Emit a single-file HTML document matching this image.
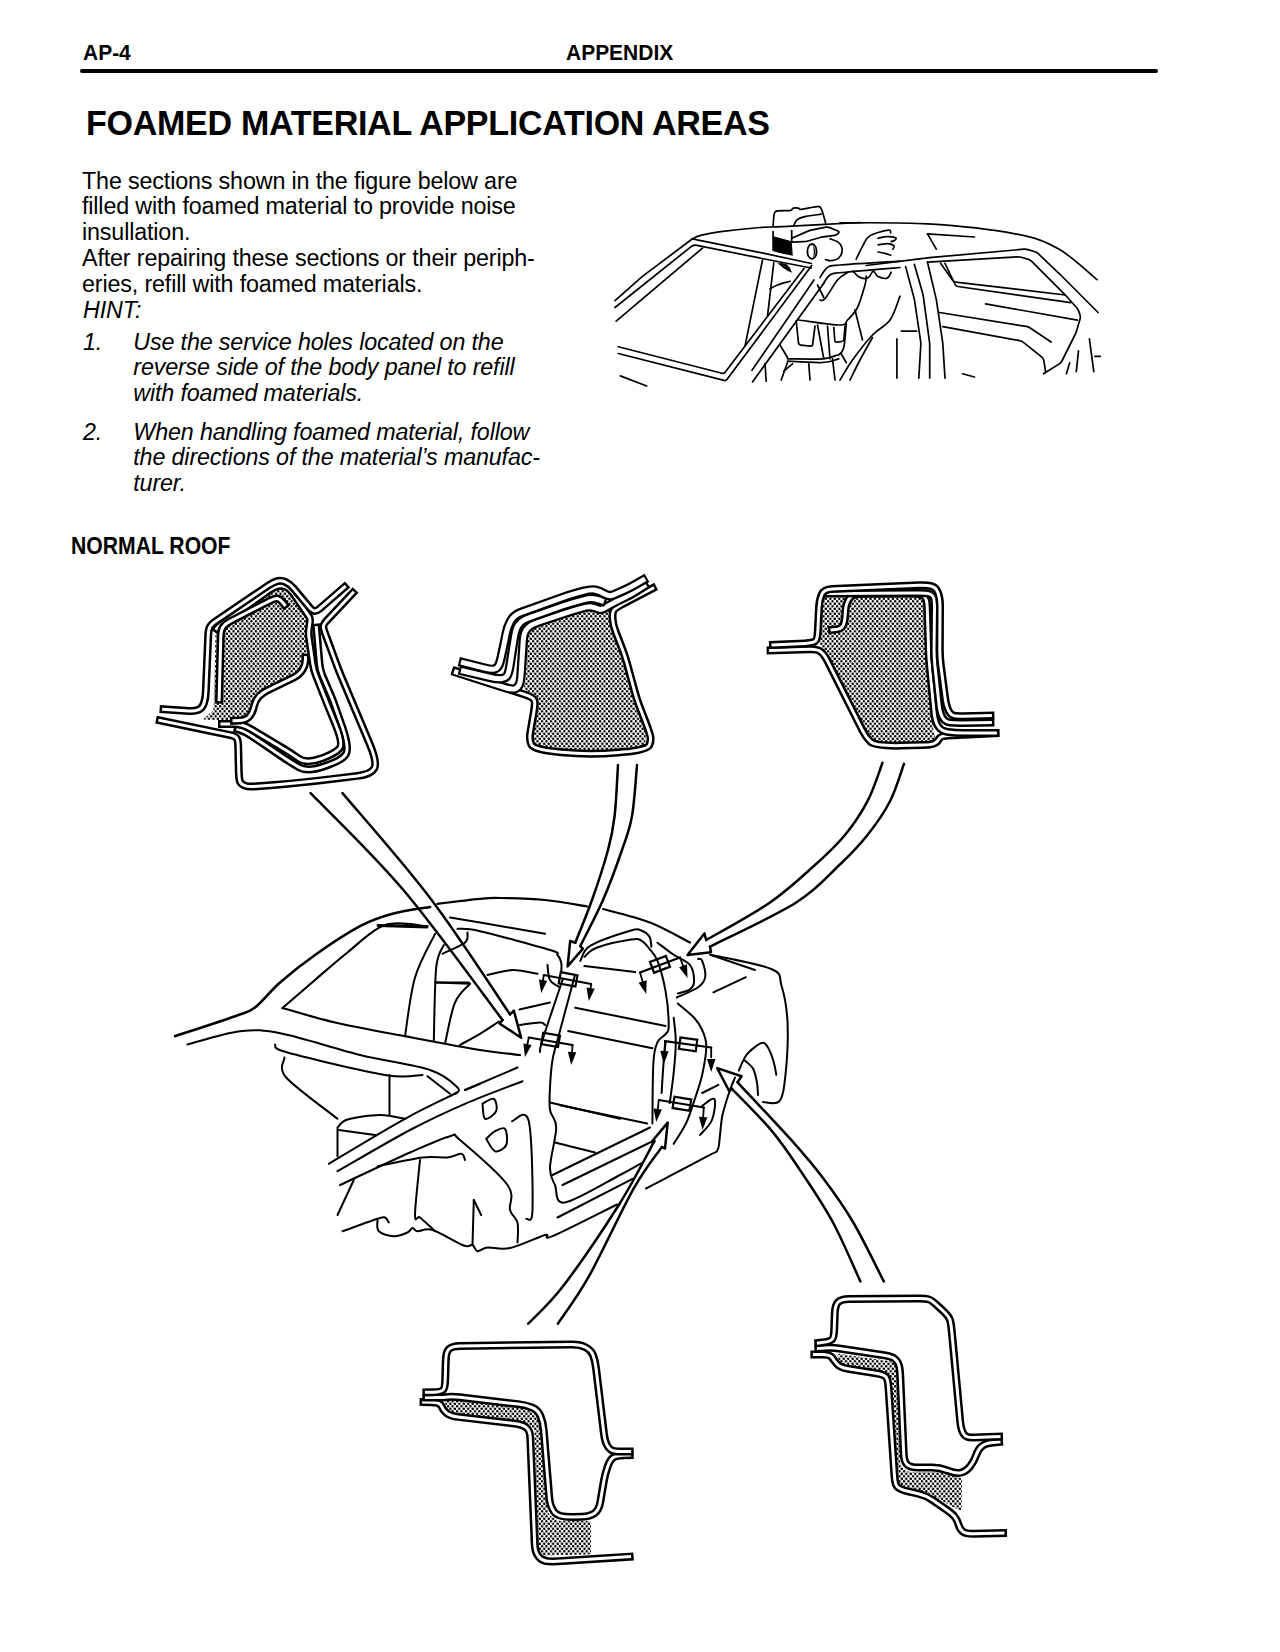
<!DOCTYPE html>
<html><head><meta charset="utf-8"><title>AP-4 Appendix</title>
<style>
html,body{margin:0;padding:0;background:#fff;}
body{width:1280px;height:1652px;position:relative;overflow:hidden;font-family:"Liberation Sans",sans-serif;color:#000;}
.l{position:absolute;white-space:nowrap;line-height:1;}
.b{font-weight:bold;}
.i{font-style:italic;}
.rule{position:absolute;left:80px;top:69px;width:1078px;height:4px;background:#000;border-radius:2px;}
svg.d{position:absolute;left:0;top:0;}
</style></head><body>
<div class="rule"></div>
<div class="l b" style="left:83px;top:41.00px;font-size:22.8px;letter-spacing:0.0px;transform:scaleX(0.92);transform-origin:0 0">AP-4</div>
<div class="l b" style="left:565.5px;top:41.00px;font-size:22.8px;letter-spacing:0.0px;transform:scaleX(0.92);transform-origin:0 0">APPENDIX</div>
<div class="l b" style="left:86.4px;top:105.17px;font-size:35px;letter-spacing:-0.3px;transform:scaleX(0.9725);transform-origin:0 0">FOAMED MATERIAL APPLICATION AREAS</div>
<div class="l " style="left:82.0px;top:169.98px;font-size:23.3px;letter-spacing:-0.15px">The sections shown in the figure below are</div>
<div class="l " style="left:82.0px;top:195.18px;font-size:23.3px;letter-spacing:-0.15px">filled with foamed material to provide noise</div>
<div class="l " style="left:82.0px;top:220.58px;font-size:23.3px;letter-spacing:-0.15px">insullation.</div>
<div class="l " style="left:82.0px;top:247.38px;font-size:23.3px;letter-spacing:-0.15px">After repairing these sections or their periph-</div>
<div class="l " style="left:82.0px;top:272.78px;font-size:23.3px;letter-spacing:-0.15px">eries, refill with foamed materials.</div>
<div class="l i" style="left:83px;top:299.18px;font-size:23.3px;letter-spacing:-0.15px">HINT:</div>
<div class="l i" style="left:83px;top:330.68px;font-size:23.3px;letter-spacing:-0.15px">1.</div>
<div class="l i" style="left:133.3px;top:330.68px;font-size:23.3px;letter-spacing:-0.15px">Use the service holes located on the</div>
<div class="l i" style="left:133.3px;top:356.28px;font-size:23.3px;letter-spacing:-0.15px">reverse side of the body panel to refill</div>
<div class="l i" style="left:133.3px;top:381.78px;font-size:23.3px;letter-spacing:-0.15px">with foamed materials.</div>
<div class="l i" style="left:83px;top:421.08px;font-size:23.3px;letter-spacing:-0.15px">2.</div>
<div class="l i" style="left:133.3px;top:421.08px;font-size:23.3px;letter-spacing:-0.15px">When handling foamed material, follow</div>
<div class="l i" style="left:133.3px;top:446.48px;font-size:23.3px;letter-spacing:-0.15px">the directions of the material&#8217;s manufac-</div>
<div class="l i" style="left:133.3px;top:472.08px;font-size:23.3px;letter-spacing:-0.15px">turer.</div>
<div class="l b" style="left:71px;top:534.53px;font-size:23px;letter-spacing:0.0px;transform:scaleX(0.92);transform-origin:0 0">NORMAL ROOF</div>
<svg class="d" width="1280" height="1652" viewBox="0 0 1280 1652"><defs><pattern id="dots" width="4.47" height="5" patternUnits="userSpaceOnUse"><rect width="4.47" height="5" fill="#fff"/><circle cx="1.1" cy="1.25" r="1.25" fill="#000"/><circle cx="3.335" cy="3.75" r="1.25" fill="#000"/></pattern></defs><path d="M204.7 717.7L211.3 712.3Q213.6 710.4 213.7 707.4L215.5 633Q215.6 630 217.8 628L217.8 628Q220 626 222.5 624.3L275.5 589.3Q278 587.6 280.9 588.3L287.1 589.7Q290 590.4 291.6 592.9L306.4 615.5Q308 618 308.1 621L308.3 625Q308.4 628 308.2 631L306.6 649Q306.4 652 306.1 655L305.5 663Q305.2 666 303.5 668.5L300.7 672.5Q299 675 296.3 676.3L264.7 691.7Q262 693 260 695.2L257.6 697.8Q255.6 700 254.9 702.9L252.7 711.1Q252 714 249.8 716L248.2 717.6Q246 719.6 243 719.7L233 720.3Q230 720.4 227 720.3L205.4 719.7Q202.4 719.6 204.7 717.7Z" fill="url(#dots)" stroke="none"/>
<path d="M355.6 590L327.1 620.2Q323 624.6 323.3 627L323.3 627Q323.6 629.4 325.7 635L336.9 665.4Q339 671 341.3 676.5L369.7 744Q377.4 762.4 374.3 768.3L374.3 768.3Q371.2 774.2 357.3 775.9L335.6 778.6Q300 783 274 785L254 786.5Q248 787 244.2 785.3L244.2 785.3Q240.4 783.6 239.7 780.8L239.7 780.8Q239 778 238.8 772L238.2 746Q238 740 236.5 738L236.5 738Q235 736 229.1 734.8L156 719.6" stroke="#000" stroke-width="8" fill="none" stroke-linejoin="round"/><path d="M353.9 591.8L327.1 620.2Q323 624.6 323.3 627L323.3 627Q323.6 629.4 325.7 635L336.9 665.4Q339 671 341.3 676.5L369.7 744Q377.4 762.4 374.3 768.3L374.3 768.3Q371.2 774.2 357.3 775.9L335.6 778.6Q300 783 274 785L254 786.5Q248 787 244.2 785.3L244.2 785.3Q240.4 783.6 239.7 780.8L239.7 780.8Q239 778 238.8 772L238.2 746Q238 740 236.5 738L236.5 738Q235 736 229.1 734.8L158.4 720.1" stroke="#fff" stroke-width="3" fill="none" stroke-linejoin="round"/>
<path d="M316 623.6L319.5 664Q320 670 322.3 675.5L331.3 696.5Q333.6 702 335.5 707.7L342.5 727.8Q349.6 748.6 345.8 754.3L345.8 754.3Q342 760 328.8 764.7L324.7 766.1Q307.4 772.2 298.7 767.1L295.2 765Q290 762 285 758.6L251 735.4Q246 732 240.3 730.1L234 728" stroke="#000" stroke-width="8" fill="none" stroke-linejoin="round"/><path d="M316.2 626.1L319.5 664Q320 670 322.3 675.5L331.3 696.5Q333.6 702 335.5 707.7L342.5 727.8Q349.6 748.6 345.8 754.3L345.8 754.3Q342 760 328.8 764.7L324.7 766.1Q307.4 772.2 298.7 767.1L295.2 765Q290 762 285 758.6L251 735.4Q246 732 241.2 730.4L236.4 728.8" stroke="#fff" stroke-width="3" fill="none" stroke-linejoin="round"/>
<path d="M214.4 632L216.2 629.4Q218 626.8 222.9 623.3L269.1 590.3Q274 586.8 278 586L278 586Q282 585.2 286 586.8L286 586.8Q290 588.4 293.3 593.4L304.7 610.2Q308 615.2 309.3 617.1L309.3 617.1Q310.6 619 309.5 624.9L309.3 626.5Q308.2 632.4 309.1 638.3L312.9 664.1Q313.8 670 316 675.6L324.2 696.4Q326.4 702 328.7 707.6L335 723Q343.4 743.4 339.7 748.2L339.7 748.2Q336 753 322.9 757.9L321.2 758.5Q306.4 764 298.2 758.3L294.9 756Q290 752.6 284.9 749.5L251.5 729.5Q246.4 726.4 242.2 725.2L242.2 725.2Q238 724 232 724L218 724" stroke="#000" stroke-width="8" fill="none" stroke-linejoin="round"/><path d="M215.8 629.9L216.9 628.4Q218 626.8 222.9 623.3L269.1 590.3Q274 586.8 278 586L278 586Q282 585.2 286 586.8L286 586.8Q290 588.4 293.3 593.4L304.7 610.2Q308 615.2 309.3 617.1L309.3 617.1Q310.6 619 309.5 624.9L309.3 626.5Q308.2 632.4 309.1 638.3L312.9 664.1Q313.8 670 316 675.6L324.2 696.4Q326.4 702 328.7 707.6L335 723Q343.4 743.4 339.7 748.2L339.7 748.2Q336 753 322.9 757.9L321.2 758.5Q306.4 764 298.2 758.3L294.9 756Q290 752.6 284.9 749.5L251.5 729.5Q246.4 726.4 242.2 725.2L242.2 725.2Q238 724 232 724L220.5 724" stroke="#fff" stroke-width="3" fill="none" stroke-linejoin="round"/>
<path d="M159.6 709L189 711Q195 711.4 198.7 709.7L198.7 709.7Q202.4 708 204 703L204 703Q205.6 698 205.8 692L208.2 636Q208.4 630 209.7 627.2L209.7 627.2Q211 624.4 216 621L268 585.8Q273 582.4 277 581.2L277 581.2Q281 580 285.5 582L285.5 582Q290 584 293.8 588.6L308.6 606.4Q312.4 611 314.7 611L314.7 611Q317 611 319.3 609L347.6 584.4" stroke="#000" stroke-width="8" fill="none" stroke-linejoin="round"/><path d="M162.1 709.2L189 711Q195 711.4 198.7 709.7L198.7 709.7Q202.4 708 204 703L204 703Q205.6 698 205.8 692L208.2 636Q208.4 630 209.7 627.2L209.7 627.2Q211 624.4 216 621L268 585.8Q273 582.4 277 581.2L277 581.2Q281 580 285.5 582L285.5 582Q290 584 293.8 588.6L308.6 606.4Q312.4 611 314.7 611L314.7 611Q317 611 319.3 609L345.7 586" stroke="#fff" stroke-width="3" fill="none" stroke-linejoin="round"/>
<path d="M305.6 653.6L305.4 660Q305.2 666 302.1 670.5L302.1 670.5Q299 675 293.6 677.6L267.4 690.4Q262 693 258.8 696.5L258.8 696.5Q255.6 700 254.1 705.8L253.5 708.2Q252 714 249 717L249 717Q246 720 240 720.4L230 721" stroke="#000" stroke-width="8" fill="none" stroke-linejoin="round"/><path d="M305.5 656.1L305.4 661Q305.2 666 302.1 670.5L302.1 670.5Q299 675 293.6 677.6L267.4 690.4Q262 693 258.8 696.5L258.8 696.5Q255.6 700 254.1 705.8L253.5 708.2Q252 714 249 717L249 717Q246 720 240 720.4L232.5 720.8" stroke="#fff" stroke-width="3" fill="none" stroke-linejoin="round"/>
<path d="M219 703.6L220.8 636Q221 630 223 627L223 627Q225 624 230.3 621.2L269.7 600.8Q275 598 277.5 598.5L277.5 598.5Q280 599 283.5 603.5L287 608" stroke="#000" stroke-width="8" fill="none" stroke-linejoin="round"/><path d="M219.1 701.1L220.8 636Q221 630 223 627L223 627Q225 624 230.3 621.2L269.7 600.8Q275 598 277.5 598.5L277.5 598.5Q280 599 282.7 602.5L285.5 606" stroke="#fff" stroke-width="3" fill="none" stroke-linejoin="round"/>
<path d="M524.2 685.1L525.2 681.9Q526 679 526.1 676L527.3 635.4Q527.4 632.4 529.8 630.5L530.6 629.9Q533 628 535.8 627L567.2 616Q570 615 572.9 614.2L585.9 610.4Q588.8 609.6 591.7 610.3L593.3 610.7Q596.2 611.4 598.6 612.5L598.6 612.5Q601 613.6 603.7 612.3L603.9 612.3Q606.6 611 609.3 609.8L609.3 609.8Q612 608.6 612.3 611.6L612.7 615Q613 618 613.9 620.9L624.1 655.1Q625 658 625.8 660.9L636.2 699.1Q637 702 637.9 704.9L645.7 729.1Q646.6 732 646.2 735L645 744Q644.6 747 641.6 747.3L592 752.1Q589 752.4 586 752.1L538.4 747.3Q535.4 747 534.2 744.3L533.4 742.7Q532.2 740 532.6 737L536.6 707Q537 704 535.8 701.3L534.2 697.9Q533 695.2 530.6 693.4L525.8 689.8Q523.4 688 524.2 685.1Z" fill="url(#dots)" stroke="none"/>
<path d="M452 670.6L525.4 694.7Q533 697.2 534.2 700.1L534.2 700.1Q535.4 703 534 710.9L530.4 732.1Q529 740 531.5 744.8L531.5 744.8Q534 749.6 558.9 752L561.5 752.3Q589 755 618.2 752.5L622.5 752.1Q647.4 750 649.4 745L649.4 745Q651.4 740 650 735L650 735Q648.6 730 645.7 722.5L639.9 707.5Q637 700 634.9 692.3L627.1 663.7Q625 656 622.1 648.5L615.9 632.5Q613 625 612.6 618.9L612.6 618.9Q612.2 612.8 613.6 610.4L613.6 610.4Q615 608 622.1 604.3L622.9 603.9Q630 600.2 637.1 596.5L656.2 586.4" stroke="#000" stroke-width="8" fill="none" stroke-linejoin="round"/><path d="M454.4 671.4L525.4 694.7Q533 697.2 534.2 700.1L534.2 700.1Q535.4 703 534 710.9L530.4 732.1Q529 740 531.5 744.8L531.5 744.8Q534 749.6 558.9 752L561.5 752.3Q589 755 618.2 752.5L622.5 752.1Q647.4 750 649.4 745L649.4 745Q651.4 740 650 735L650 735Q648.6 730 645.7 722.5L639.9 707.5Q637 700 634.9 692.3L627.1 663.7Q625 656 622.1 648.5L615.9 632.5Q613 625 612.6 618.9L612.6 618.9Q612.2 612.8 613.6 610.4L613.6 610.4Q615 608 622.1 604.3L622.9 603.9Q630 600.2 637.1 596.5L654 587.6" stroke="#fff" stroke-width="3" fill="none" stroke-linejoin="round"/>
<path d="M452 670.6L503.4 687.1Q511 689.6 514.2 689L514.2 689Q517.4 688.4 519 685.2L519 685.2Q520.6 682 521.1 674L523.3 640Q523.8 632 527.6 628.2L527.6 628.2Q531.4 624.4 539 621.9L562.4 614.1Q570 611.6 577.7 609.4L581.1 608.4Q588.8 606.2 592.5 607.1L592.5 607.1Q596.2 608 598.6 609L598.6 609Q601 610 603.5 608.6L603.5 608.6Q606 607.2 611.5 604.1L611.5 604.1Q617 601 623.5 598L623.5 598Q630 595 636.7 590.7L648 583.4" stroke="#000" stroke-width="9.5" fill="none" stroke-linejoin="round"/><path d="M454.1 671.3L503.4 687.1Q511 689.6 514.2 689L514.2 689Q517.4 688.4 519 685.2L519 685.2Q520.6 682 521.1 674L523.3 640Q523.8 632 527.6 628.2L527.6 628.2Q531.4 624.4 539 621.9L562.4 614.1Q570 611.6 577.7 609.4L581.1 608.4Q588.8 606.2 592.5 607.1L592.5 607.1Q596.2 608 598.6 609L598.6 609Q601 610 603.5 608.6L603.5 608.6Q606 607.2 611.5 604.1L611.5 604.1Q617 601 623.5 598L623.5 598Q630 595 636.7 590.7L646.1 584.6" stroke="#fff" stroke-width="5" fill="none" stroke-linejoin="round"/>
<path d="M458.8 670L489.6 677.3Q497.4 679.2 501.2 678.8L501.2 678.8Q505 678.4 506.8 676.2L506.8 676.2Q508.6 674 509.9 666.1L512.7 647.9Q514 640 515 633.8L515 633.8Q516 627.6 519.3 623.8L519.3 623.8Q522.6 620 530.2 617.4L562.4 606Q570 603.4 577.7 601.3L583.3 599.9Q591 597.8 595.5 599L595.5 599Q600 600.2 603 601.3L606 602.4" stroke="#000" stroke-width="9.5" fill="none" stroke-linejoin="round"/><path d="M461 670.5L489.6 677.3Q497.4 679.2 501.2 678.8L501.2 678.8Q505 678.4 506.8 676.2L506.8 676.2Q508.6 674 509.9 666.1L512.7 647.9Q514 640 515 633.8L515 633.8Q516 627.6 519.3 623.8L519.3 623.8Q522.6 620 530.2 617.4L562.4 606Q570 603.4 577.7 601.3L583.3 599.9Q591 597.8 595.5 599L595.5 599Q600 600.2 601.9 600.9L603.9 601.6" stroke="#fff" stroke-width="5" fill="none" stroke-linejoin="round"/>
<path d="M458.8 661.6L484.4 668Q492.2 670 494.8 669L494.8 669Q497.4 668 498.7 665.5L498.7 665.5Q500 663 501.7 655.2L503.3 647.8Q505 640 506.2 633.5L506.2 633.5Q507.4 627 510.7 621L510.7 621Q514 615 521.5 612.3L562.5 597.7Q570 595 577.7 592.9L583.3 591.3Q591 589.2 595.5 590.2L595.5 590.2Q600 591.2 604.4 593.9L604.4 593.9Q608.8 596.6 612.9 595.1L612.9 595.1Q617 593.6 623.5 590.6L623.5 590.6Q630 587.6 636.9 583.6L647 577.8" stroke="#000" stroke-width="9.5" fill="none" stroke-linejoin="round"/><path d="M461 662.1L484.4 668Q492.2 670 494.8 669L494.8 669Q497.4 668 498.7 665.5L498.7 665.5Q500 663 501.7 655.2L503.3 647.8Q505 640 506.2 633.5L506.2 633.5Q507.4 627 510.7 621L510.7 621Q514 615 521.5 612.3L562.5 597.7Q570 595 577.7 592.9L583.3 591.3Q591 589.2 595.5 590.2L595.5 590.2Q600 591.2 604.4 593.9L604.4 593.9Q608.8 596.6 612.9 595.1L612.9 595.1Q617 593.6 623.5 590.6L623.5 590.6Q630 587.6 636.9 583.6L645.1 578.9" stroke="#fff" stroke-width="5" fill="none" stroke-linejoin="round"/>
<path d="M823 595L823 595Q825 593 829 593L923 592.6Q927 592.6 928.2 596.4L929.8 601.2Q931 605 931.1 609L932.9 725Q933 729 934 732.9L935 737.1Q936 741 932 741.2L879 743.2Q875 743.4 871.9 740.9L870.1 739.5Q867 737 865.2 733.4L825.8 653.6Q824 650 821.7 647.5L821.7 647.5Q819.4 645 819.5 641L820.9 601Q821 597 823 595Z" fill="url(#dots)" stroke="none"/>
<path d="M766.6 650.6L809 649.3Q817 649 820.5 651.5L820.5 651.5Q824 654 827.6 661.1L862.4 730.3Q866 737.4 870.5 741.7L870.5 741.7Q875 746 900 745.6L923 745.1Q931 745 934.2 743.5L934.2 743.5Q937.4 742 939 739L939 739Q940.6 736 948.6 735.6L999.4 733" stroke="#000" stroke-width="8" fill="none" stroke-linejoin="round"/><path d="M769.1 650.5L809 649.3Q817 649 820.5 651.5L820.5 651.5Q824 654 827.6 661.1L862.4 730.3Q866 737.4 870.5 741.7L870.5 741.7Q875 746 900 745.6L923 745.1Q931 745 934.2 743.5L934.2 743.5Q937.4 742 939 739L939 739Q940.6 736 948.6 735.6L996.9 733.1" stroke="#fff" stroke-width="3" fill="none" stroke-linejoin="round"/>
<path d="M828 630.2L834.5 629.6Q841 629 842.8 626L842.8 626Q844.6 623 845.2 615L845.4 611Q846 603 849.5 598.4L849.5 598.4Q853 593.8 861 593.8L913 593.4Q921 593.4 924 596.2L924 596.2Q927 599 927.2 607L928.6 649.4Q928.8 657.4 929.6 665.4L934.2 713Q935 721 938 726L938 726Q941 731 948 732L948 732Q955 733 963 733L999.4 733" stroke="#000" stroke-width="8" fill="none" stroke-linejoin="round"/><path d="M830.5 630L835.7 629.5Q841 629 842.8 626L842.8 626Q844.6 623 845.2 615L845.4 611Q846 603 849.5 598.4L849.5 598.4Q853 593.8 861 593.8L913 593.4Q921 593.4 924 596.2L924 596.2Q927 599 927.2 607L928.6 649.4Q928.8 657.4 929.6 665.4L934.2 713Q935 721 938 726L938 726Q941 731 948 732L948 732Q955 733 963 733L996.9 733" stroke="#fff" stroke-width="3" fill="none" stroke-linejoin="round"/>
<path d="M824 593.4L919 593Q927 593 930 594.2L930 594.2Q933 595.4 933.8 598.2L933.8 598.2Q934.6 601 934.5 609L934.1 649.4Q934 657.4 934.9 665.4L939.1 705Q940 713 942.5 717.5L942.5 717.5Q945 722 950 722.5L950 722.5Q955 723 963 722.9L994.4 722.4" stroke="#000" stroke-width="8" fill="none" stroke-linejoin="round"/><path d="M826.5 593.4L919 593Q927 593 930 594.2L930 594.2Q933 595.4 933.8 598.2L933.8 598.2Q934.6 601 934.5 609L934.1 649.4Q934 657.4 934.9 665.4L939.1 705Q940 713 942.5 717.5L942.5 717.5Q945 722 950 722.5L950 722.5Q955 723 963 722.9L991.9 722.4" stroke="#fff" stroke-width="3" fill="none" stroke-linejoin="round"/>
<path d="M769 645L805 643.4Q813 643 815.2 641.2L815.2 641.2Q817.4 639.4 817.8 631.4L819 608Q819.4 600 821.7 594.7L821.7 594.7Q824 589.4 832 589.1L919 585.3Q927 585 931.5 586.2L931.5 586.2Q936 587.4 938 592.7L938 592.7Q940 598 940 606L939.8 649.4Q939.8 657.4 940.8 665.3L945 697.1Q946 705 948 709.5L948 709.5Q950 714 952.5 715.2L952.5 715.2Q955 716.4 963 716.2L994.4 715.4" stroke="#000" stroke-width="8" fill="none" stroke-linejoin="round"/><path d="M771.5 644.9L805 643.4Q813 643 815.2 641.2L815.2 641.2Q817.4 639.4 817.8 631.4L819 608Q819.4 600 821.7 594.7L821.7 594.7Q824 589.4 832 589.1L919 585.3Q927 585 931.5 586.2L931.5 586.2Q936 587.4 938 592.7L938 592.7Q940 598 940 606L939.8 649.4Q939.8 657.4 940.8 665.3L945 697.1Q946 705 948 709.5L948 709.5Q950 714 952.5 715.2L952.5 715.2Q955 716.4 963 716.2L991.9 715.5" stroke="#fff" stroke-width="3" fill="none" stroke-linejoin="round"/>
<path d="M447.5 1400.3L447.5 1400.3Q450 1399.6 453 1399.9L523 1407.7Q526 1408 528.8 1409.2L535.2 1411.8Q538 1413 539 1415.8L541.4 1423.2Q542.4 1426 542.6 1429L547.8 1511Q548 1514 550.5 1515.7L555.5 1519.3Q558 1521 561 1521L588 1521Q591 1521 591 1524L591 1551.4Q591 1554.4 588 1554.5L545 1555.5Q542 1555.6 540.3 1553.2L539.7 1552.4Q538 1550 537.9 1547L534.5 1433Q534.4 1430 532.3 1427.8L530.5 1425.8Q528.4 1423.6 525.4 1423.2L453 1414Q450 1413.6 448 1412L448 1412Q446 1410.4 445.7 1407.4L445.3 1404Q445 1401 447.5 1400.3Z" fill="url(#dots)" stroke="none"/>
<path d="M419.6 1402L432 1402.2Q440 1402.4 441.5 1406.2L441.5 1406.2Q443 1410 446.5 1413L446.5 1413Q450 1416 457.9 1416.9L514.1 1423.5Q522 1424.4 526 1427.2L526 1427.2Q530 1430 530.3 1438L534.7 1544Q535 1552 538.5 1556.5L538.5 1556.5Q542 1561 548 1561.3L548 1561.3Q554 1561.6 562 1561.1L633.6 1556.4" stroke="#000" stroke-width="8" fill="none" stroke-linejoin="round"/><path d="M422.1 1402L432 1402.2Q440 1402.4 441.5 1406.2L441.5 1406.2Q443 1410 446.5 1413L446.5 1413Q450 1416 457.9 1416.9L514.1 1423.5Q522 1424.4 526 1427.2L526 1427.2Q530 1430 530.3 1438L534.7 1544Q535 1552 538.5 1556.5L538.5 1556.5Q542 1561 548 1561.3L548 1561.3Q554 1561.6 562 1561.1L631.1 1556.6" stroke="#fff" stroke-width="3" fill="none" stroke-linejoin="round"/>
<path d="M422.4 1397.6L436 1397.6Q444 1397.6 448 1397L448 1397Q452 1396.4 459.9 1397.3L518.1 1404.1Q526 1405 532 1407.5L532 1407.5Q538 1410 540.5 1416L540.5 1416Q543 1422 543.7 1430L549.3 1498Q550 1506 554 1511.8L554 1511.8Q558 1517.6 574 1517L582 1516.7Q590 1516.4 594.5 1513.2L594.5 1513.2Q599 1510 600.3 1502.1L603.7 1481.9Q605 1474 607.5 1467L607.5 1467Q610 1460 613 1457.8L613 1457.8Q616 1455.6 624 1455.3L633.6 1455" stroke="#000" stroke-width="8" fill="none" stroke-linejoin="round"/><path d="M424.9 1397.6L436 1397.6Q444 1397.6 448 1397L448 1397Q452 1396.4 459.9 1397.3L518.1 1404.1Q526 1405 532 1407.5L532 1407.5Q538 1410 540.5 1416L540.5 1416Q543 1422 543.7 1430L549.3 1498Q550 1506 554 1511.8L554 1511.8Q558 1517.6 574 1517L582 1516.7Q590 1516.4 594.5 1513.2L594.5 1513.2Q599 1510 600.3 1502.1L603.7 1481.9Q605 1474 607.5 1467L607.5 1467Q610 1460 613 1457.8L613 1457.8Q616 1455.6 623.6 1455.3L631.1 1455.1" stroke="#fff" stroke-width="3" fill="none" stroke-linejoin="round"/>
<path d="M422.4 1392.4L433 1392.2Q441 1392 443 1390L443 1390Q445 1388 445.2 1380L445.8 1360Q446 1352 449 1349L449 1349Q452 1346 460 1345.9L572 1344.5Q580 1344.4 585.5 1347.2L585.5 1347.2Q591 1350 593 1355L593 1355Q595 1360 596 1367.9L604 1434.1Q605 1442 607.5 1446L607.5 1446Q610 1450 613 1450.8L613 1450.8Q616 1451.6 624 1451.6L633.6 1451.6" stroke="#000" stroke-width="8" fill="none" stroke-linejoin="round"/><path d="M424.9 1392.3L433 1392.2Q441 1392 443 1390L443 1390Q445 1388 445.2 1380L445.8 1360Q446 1352 449 1349L449 1349Q452 1346 460 1345.9L572 1344.5Q580 1344.4 585.5 1347.2L585.5 1347.2Q591 1350 593 1355L593 1355Q595 1360 596 1367.9L604 1434.1Q605 1442 607.5 1446L607.5 1446Q610 1450 613 1450.8L613 1450.8Q616 1451.6 623.5 1451.6L631.1 1451.6" stroke="#fff" stroke-width="3" fill="none" stroke-linejoin="round"/>
<path d="M840 1353.9L889 1361.1Q892 1361.5 894.1 1363.6L894.3 1363.8Q896.4 1365.9 896.8 1368.9L898 1378.5Q898.4 1381.5 898.5 1384.5L900.3 1462.5Q900.4 1465.5 902.7 1467.4L905.7 1470Q908 1471.9 911 1471.9L937 1471.9Q940 1471.9 942.9 1472.8L959.1 1477.6Q962 1478.5 962 1481.5L961.6 1508.5Q961.6 1511.5 958.9 1510.1L956.7 1508.9Q954 1507.5 951.4 1506L928.6 1493.4Q926 1491.9 923 1491.4L903 1488.4Q900 1487.9 898.4 1485.4L897.6 1484Q896 1481.5 895.9 1478.5L892.1 1384.5Q892 1381.5 890.2 1379.1L888.2 1376.3Q886.4 1373.9 883.4 1373.4L843.4 1366.4Q840.4 1365.9 839.6 1363L837.8 1356.4Q837 1353.5 840 1353.9Z" fill="url(#dots)" stroke="none"/>
<path d="M810.4 1354.5L822 1354.5Q830 1354.5 832 1357.5L832 1357.5Q834 1360.5 837 1364L837 1364Q840 1367.5 847.9 1368.8L876.1 1373.2Q884 1374.5 886 1377L886 1377Q888 1379.5 888.5 1387.5L894.5 1476.5Q895 1484.5 897.5 1487L897.5 1487Q900 1489.5 907.8 1491.3L918.2 1493.7Q926 1495.5 932.6 1500.1L945.4 1508.9Q952 1513.5 954.5 1516.5L954.5 1516.5Q957 1519.5 958.5 1524.5L958.5 1524.5Q960 1529.5 963 1531.7L963 1531.7Q966 1533.9 974 1533.7L1007 1533.1" stroke="#000" stroke-width="8" fill="none" stroke-linejoin="round"/><path d="M812.9 1354.5L822 1354.5Q830 1354.5 832 1357.5L832 1357.5Q834 1360.5 837 1364L837 1364Q840 1367.5 847.9 1368.8L876.1 1373.2Q884 1374.5 886 1377L886 1377Q888 1379.5 888.5 1387.5L894.5 1476.5Q895 1484.5 897.5 1487L897.5 1487Q900 1489.5 907.8 1491.3L918.2 1493.7Q926 1495.5 932.6 1500.1L945.4 1508.9Q952 1513.5 954.5 1516.5L954.5 1516.5Q957 1519.5 958.5 1524.5L958.5 1524.5Q960 1529.5 963 1531.7L963 1531.7Q966 1533.9 974 1533.7L1004.5 1533.1" stroke="#fff" stroke-width="3" fill="none" stroke-linejoin="round"/>
<path d="M814.4 1348.5L825 1347.9Q833 1347.5 840.9 1348.7L884.1 1355.3Q892 1356.5 895 1359L895 1359Q898 1361.5 899 1365.5L899 1365.5Q900 1369.5 900.3 1377.5L903.7 1453.5Q904 1461.5 907 1464.5L907 1464.5Q910 1467.5 918 1467.5L932 1467.5Q940 1467.5 947.4 1470.5L948 1470.7Q956 1473.9 961 1472.7L961 1472.7Q966 1471.5 970 1466.5L970 1466.5Q974 1461.5 976 1455.5L976 1455.5Q978 1449.5 981.5 1446.5L981.5 1446.5Q985 1443.5 993 1442.6L1003 1441.5" stroke="#000" stroke-width="8" fill="none" stroke-linejoin="round"/><path d="M816.9 1348.4L825 1347.9Q833 1347.5 840.9 1348.7L884.1 1355.3Q892 1356.5 895 1359L895 1359Q898 1361.5 899 1365.5L899 1365.5Q900 1369.5 900.3 1377.5L903.7 1453.5Q904 1461.5 907 1464.5L907 1464.5Q910 1467.5 918 1467.5L932 1467.5Q940 1467.5 947.4 1470.5L948 1470.7Q956 1473.9 961 1472.7L961 1472.7Q966 1471.5 970 1466.5L970 1466.5Q974 1461.5 976 1455.5L976 1455.5Q978 1449.5 981.5 1446.5L981.5 1446.5Q985 1443.5 992.8 1442.6L1000.5 1441.8" stroke="#fff" stroke-width="3" fill="none" stroke-linejoin="round"/>
<path d="M814.4 1343.5L822.2 1342.5Q830 1341.5 832 1339.5L832 1339.5Q834 1337.5 834.2 1329.5L834.8 1313.5Q835 1305.5 838 1302.3L838 1302.3Q841 1299.1 849 1299L918 1298.6Q926 1298.5 929 1299.5L929 1299.5Q932 1300.5 937.8 1306L943.2 1311Q949 1316.5 950 1320L950 1320Q951 1323.5 951.8 1331.5L960.2 1421.5Q961 1429.5 963.5 1433.7L963.5 1433.7Q966 1437.9 974 1437.6L1003 1436.5" stroke="#000" stroke-width="8" fill="none" stroke-linejoin="round"/><path d="M816.9 1343.2L823.4 1342.3Q830 1341.5 832 1339.5L832 1339.5Q834 1337.5 834.2 1329.5L834.8 1313.5Q835 1305.5 838 1302.3L838 1302.3Q841 1299.1 849 1299L918 1298.6Q926 1298.5 929 1299.5L929 1299.5Q932 1300.5 937.8 1306L943.2 1311Q949 1316.5 950 1320L950 1320Q951 1323.5 951.8 1331.5L960.2 1421.5Q961 1429.5 963.5 1433.7L963.5 1433.7Q966 1437.9 974 1437.6L1000.5 1436.6" stroke="#fff" stroke-width="3" fill="none" stroke-linejoin="round"/>
<path d="M175 1036.2C185 1032.9 221.7 1021 235 1016.2C248.3 1011.5 247.5 1013.1 255 1007.5C262.5 1001.9 270 991.2 280 982.5C290 973.8 301.7 964.4 315 955C328.3 945.6 347.1 933.1 360 926.2C372.9 919.4 380.8 917 392.5 913.8C404.2 910.5 423.8 908.1 430 907" stroke="#000" stroke-width="2.6" fill="none" stroke-linejoin="round" stroke-linecap="round"/>
<path d="M437.5 903.8C444.6 902.9 469.6 899.7 480 898.8C490.4 897.8 489.2 897.8 500 898C510.8 898.2 530.5 898.6 545 900C559.5 901.4 580 905.4 587 906.5" stroke="#000" stroke-width="2.2" fill="none" stroke-linejoin="round" stroke-linecap="round"/>
<path d="M603 909C610.8 911.2 635.5 916.9 650 922.5C664.5 928.1 683.3 939.2 690 942.5" stroke="#000" stroke-width="2.2" fill="none" stroke-linejoin="round" stroke-linecap="round"/>
<path d="M282.5 1008C287.9 1003.3 304.2 989.2 315 980C325.8 970.8 335.8 961.7 347.5 952.5C359.2 943.3 371.7 929.4 385 925C398.3 920.6 420.4 926 427.5 926.2" stroke="#000" stroke-width="2.2" fill="none" stroke-linejoin="round" stroke-linecap="round"/>
<path d="M378 925.5L427 927" stroke="#000" stroke-width="2.8" fill="none" stroke-linejoin="round" stroke-linecap="round"/>
<path d="M282.5 1008C291.2 1010.4 314.6 1017.8 335 1022.5C355.4 1027.2 380.8 1031.7 405 1036.2C429.2 1040.8 460.8 1046.9 480 1050C499.2 1053.1 513.3 1054.2 520 1055" stroke="#000" stroke-width="2.2" fill="none" stroke-linejoin="round" stroke-linecap="round"/>
<path d="M187.5 1044.5C196.2 1042.3 224.2 1033 240 1031.2C255.8 1029.5 262.5 1029.8 282.5 1033.8C302.5 1037.7 335.4 1049 360 1055C384.6 1061 413.8 1064.6 430 1070C446.2 1075.4 453.3 1083.5 457.5 1087.5C461.7 1091.5 455.4 1092.7 455 1093.8" stroke="#000" stroke-width="2.0" fill="none" stroke-linejoin="round" stroke-linecap="round"/>
<path d="M275 1044.5C277.1 1045.8 269.2 1047.4 287.5 1052.5C305.8 1057.6 362.5 1071.2 385 1075C407.5 1078.8 416.2 1075 422.5 1075" stroke="#000" stroke-width="2.0" fill="none" stroke-linejoin="round" stroke-linecap="round"/>
<path d="M427.5 1076.2L450 1093.8" stroke="#000" stroke-width="2.0" fill="none" stroke-linejoin="round" stroke-linecap="round"/>
<path d="M284.5 1057.5C284.8 1060.8 277.4 1067.3 286.2 1077.5C295.1 1087.7 329 1111.9 337.5 1118.8" stroke="#000" stroke-width="2.0" fill="none" stroke-linejoin="round" stroke-linecap="round"/>
<path d="M389.5 1075L389.5 1115" stroke="#000" stroke-width="2.0" fill="none" stroke-linejoin="round" stroke-linecap="round"/>
<path d="M337.5 1127.5C339.2 1126.2 340.4 1121.6 347.5 1119.5C354.6 1117.4 370.4 1115.1 380 1115C389.6 1114.9 400.8 1118.1 405 1118.8" stroke="#000" stroke-width="2.0" fill="none" stroke-linejoin="round" stroke-linecap="round"/>
<path d="M337.5 1128.8L337.5 1156.2" stroke="#000" stroke-width="2.0" fill="none" stroke-linejoin="round" stroke-linecap="round"/>
<path d="M338.8 1130L375 1135" stroke="#000" stroke-width="2.0" fill="none" stroke-linejoin="round" stroke-linecap="round"/>
<path d="M328.8 1163.8C341.5 1156.2 383.5 1130.6 405 1118.8C426.5 1106.9 448.8 1096.9 457.5 1092.5" stroke="#000" stroke-width="2.0" fill="none" stroke-linejoin="round" stroke-linecap="round"/>
<path d="M337.5 1171.2C349.6 1164.4 388.8 1141.2 410 1130C431.2 1118.8 446.2 1111.9 465 1103.8C483.8 1095.6 512.9 1085 522.5 1081.2" stroke="#000" stroke-width="2.0" fill="none" stroke-linejoin="round" stroke-linecap="round"/>
<path d="M465 1090L517.5 1067.5" stroke="#000" stroke-width="2.0" fill="none" stroke-linejoin="round" stroke-linecap="round"/>
<path d="M340 1185C351.7 1179.6 391.7 1160.6 410 1152.5C428.3 1144.4 441.7 1138.3 450 1136.2C458.3 1134.2 450.4 1131.9 460 1140C469.6 1148.1 499.2 1173.3 507.5 1185C515.8 1196.7 508.3 1203.8 510 1210C511.7 1216.2 516.2 1217.1 517.5 1222.5C518.8 1227.9 517.5 1239.2 517.5 1242.5" stroke="#000" stroke-width="2.0" fill="none" stroke-linejoin="round" stroke-linecap="round"/>
<path d="M377.5 1166.2C385 1164.8 410.8 1159 422.5 1157.5C434.2 1156 441 1158.1 447.5 1157.5C454 1156.9 458.3 1153.3 461.2 1153.8C464.2 1154.2 464.4 1159 465 1160" stroke="#000" stroke-width="2.0" fill="none" stroke-linejoin="round" stroke-linecap="round"/>
<path d="M353.8 1180L337.5 1215" stroke="#000" stroke-width="2.0" fill="none" stroke-linejoin="round" stroke-linecap="round"/>
<path d="M420 1160C419.2 1169.2 415 1205.4 415 1215C415 1224.6 416.9 1215 420 1217.5C423.1 1220 431.5 1227.9 433.8 1230" stroke="#000" stroke-width="2.0" fill="none" stroke-linejoin="round" stroke-linecap="round"/>
<path d="M342.5 1231.2C348.3 1229.2 370.4 1221 377.5 1218.8C384.6 1216.5 383.1 1216.9 385 1217.5C386.9 1218.1 388.1 1221.7 388.8 1222.5" stroke="#000" stroke-width="2.0" fill="none" stroke-linejoin="round" stroke-linecap="round"/>
<path d="M377.5 1220C377.7 1221.9 376 1228.5 378.8 1231.2C381.5 1234 389 1236 393.8 1236.2C398.5 1236.5 404.4 1233.9 407.5 1232.5C410.6 1231.1 410.8 1228.2 412.5 1228C414.2 1227.8 414.2 1230.9 417.5 1231.2C420.8 1231.6 424.8 1227.6 432.5 1230C440.2 1232.4 457.1 1243 463.8 1245.5C470.4 1248 470.2 1244 472.5 1245C474.8 1246 475 1250.8 477.5 1251.2C480 1251.7 482.1 1248 487.5 1247.5C492.9 1247 500.4 1250.1 510 1248C519.6 1245.9 537.9 1237 545 1235C552.1 1233 540.5 1241.3 552.5 1236.2C564.5 1231.2 606.2 1209.8 617 1204.5" stroke="#000" stroke-width="2.0" fill="none" stroke-linejoin="round" stroke-linecap="round"/>
<path d="M646 1188.5C656.2 1183.1 695.6 1162.7 707.5 1156.2C719.4 1149.8 715.4 1153.5 717.5 1150C719.6 1146.5 719.2 1140.8 720 1135C720.8 1129.2 720.8 1122.5 722.5 1115C724.2 1107.5 727.9 1096.2 730 1090C732.1 1083.8 734.2 1079.6 735 1077.5" stroke="#000" stroke-width="2.0" fill="none" stroke-linejoin="round" stroke-linecap="round"/>
<path d="M473.8 1200L472.5 1245" stroke="#000" stroke-width="2.0" fill="none" stroke-linejoin="round" stroke-linecap="round"/>
<path d="M473.8 1200L481.2 1215" stroke="#000" stroke-width="2.0" fill="none" stroke-linejoin="round" stroke-linecap="round"/>
<path d="M512 1121.2C514.8 1121.2 525.3 1106.5 528.8 1121.2C532.2 1136 532.9 1193.8 532.5 1210C532.1 1226.2 527.3 1217.3 526.2 1218.8" stroke="#000" stroke-width="2.0" fill="none" stroke-linejoin="round" stroke-linecap="round"/>
<path d="M482.5 1103.8C484.4 1102.9 491.5 1097.5 493.8 1098.8C496 1100 497.7 1107.9 496.2 1111.2C494.8 1114.6 487.3 1120 485 1118.8C482.7 1117.5 482.9 1106.2 482.5 1103.8" stroke="#000" stroke-width="2.0" fill="none" stroke-linejoin="round" stroke-linecap="round"/>
<path d="M486.2 1138.8C487.7 1137.5 491.9 1132.9 495 1131.2C498.1 1129.6 503.1 1126.5 505 1128.8C506.9 1131 507.9 1141.2 506.2 1145C504.6 1148.8 498.3 1152.3 495 1151.2C491.7 1150.2 487.7 1140.8 486.2 1138.8" stroke="#000" stroke-width="2.0" fill="none" stroke-linejoin="round" stroke-linecap="round"/>
<path d="M435 933.8C431.7 941 420 960.4 415 977.5C410 994.6 406.7 1026.5 405 1036.2" stroke="#000" stroke-width="2.0" fill="none" stroke-linejoin="round" stroke-linecap="round"/>
<path d="M443.8 945C442.5 948.8 437.9 951.5 436.2 967.5C434.6 983.5 434.2 1029 433.8 1041.2" stroke="#000" stroke-width="2.0" fill="none" stroke-linejoin="round" stroke-linecap="round"/>
<path d="M436.2 982.5L470 983.8" stroke="#000" stroke-width="2.0" fill="none" stroke-linejoin="round" stroke-linecap="round"/>
<path d="M470 983.8C467.5 986.9 459.2 992.5 455 1002.5C450.8 1012.5 446.7 1036.9 445 1043.8" stroke="#000" stroke-width="2.0" fill="none" stroke-linejoin="round" stroke-linecap="round"/>
<path d="M467.5 932.5C467.1 934.2 469.2 939 465 942.5C460.8 946 446.2 951.9 442.5 953.8" stroke="#000" stroke-width="2.0" fill="none" stroke-linejoin="round" stroke-linecap="round"/>
<path d="M450 917.5C455 918.3 464.2 919.8 480 922.5C495.8 925.2 534.2 931.9 545 933.8" stroke="#000" stroke-width="2.0" fill="none" stroke-linejoin="round" stroke-linecap="round"/>
<path d="M457.5 928.8C461.2 929.2 464.6 927.7 480 931.2C495.4 934.8 537.1 946 550 950C562.9 954 555.6 952.9 557.5 955C559.4 957.1 560.6 959.6 561.2 962.5C561.9 965.4 561.2 970.8 561.2 972.5" stroke="#000" stroke-width="2.0" fill="none" stroke-linejoin="round" stroke-linecap="round"/>
<path d="M460 1045C463.3 1043.1 473.5 1037.7 480 1033.8C486.5 1029.8 495.8 1023.5 499 1021.5" stroke="#000" stroke-width="2.0" fill="none" stroke-linejoin="round" stroke-linecap="round"/>
<path d="M465 1090L480 1083.8" stroke="#000" stroke-width="2.0" fill="none" stroke-linejoin="round" stroke-linecap="round"/>
<path d="M487.5 975C491.7 974.2 504.2 970.2 512.5 970C520.8 969.8 533.3 973.1 537.5 973.8" stroke="#000" stroke-width="2.0" fill="none" stroke-linejoin="round" stroke-linecap="round"/>
<path d="M519.5 1009.5L550 1002.5" stroke="#000" stroke-width="2.0" fill="none" stroke-linejoin="round" stroke-linecap="round"/>
<path d="M520 1025C523.3 1024.6 535.8 1022.5 540 1022.5C544.2 1022.5 544.2 1024.6 545 1025" stroke="#000" stroke-width="2.0" fill="none" stroke-linejoin="round" stroke-linecap="round"/>
<path d="M435 982.5L468.8 982.5" stroke="#000" stroke-width="2.0" fill="none" stroke-linejoin="round" stroke-linecap="round"/>
<path d="M547.5 965C547.9 967.5 547.9 976.2 550 980C552.1 983.8 558.3 986.2 560 987.5" stroke="#000" stroke-width="2.0" fill="none" stroke-linejoin="round" stroke-linecap="round"/>
<path d="M562.5 980C559.2 990 546.2 1028 542.5 1040C538.8 1052 540.4 1050 540 1052" stroke="#000" stroke-width="2.0" fill="none" stroke-linejoin="round" stroke-linecap="round"/>
<path d="M575 975C572.1 985.8 561.2 1025.8 557.5 1040C553.8 1054.2 553.8 1052.1 552.5 1060C551.2 1067.9 550.4 1079.2 550 1087.5C549.6 1095.8 549 1103.3 550 1110C551 1116.7 556.2 1117.9 556.2 1127.5C556.2 1137.1 550.2 1157.9 550 1167.5C549.8 1177.1 552.5 1179.2 555 1185C557.5 1190.8 554.2 1204.2 565 1202.5C575.8 1200.8 607.1 1181.7 620 1175C632.9 1168.3 638.8 1164.6 642.5 1162.5" stroke="#000" stroke-width="2.0" fill="none" stroke-linejoin="round" stroke-linecap="round"/>
<path d="M580.3 960.9C582 958.4 582 950.8 590.5 945.7C599 940.6 622.6 933 631.1 930.5C639.6 928 638.2 929.5 641.3 930.5C644.3 931.5 647.7 933.9 649.4 936.6C651.1 939.3 651.1 945 651.4 946.7" stroke="#000" stroke-width="2.0" fill="none" stroke-linejoin="round" stroke-linecap="round"/>
<path d="M584.4 956.9C586.4 955.4 588.8 950.6 596.6 947.7C604.4 944.8 623.7 940.8 631.1 939.6C638.5 938.4 638.2 939.1 641.3 940.6C644.3 942.1 646.7 945.4 649.4 948.8C652.1 952.2 654.8 953.8 657.5 960.9C660.2 968 663.7 980.6 665.6 991.4C667.5 1002.2 668.7 1018.8 668.7 1025.9C668.7 1033 667.5 1031.4 665.6 1034.1C663.7 1036.8 659.5 1037.5 657.5 1042.2C655.5 1046.9 654.2 1049 653.4 1062.5C652.5 1076 652.6 1113.2 652.4 1123.4" stroke="#000" stroke-width="2.0" fill="none" stroke-linejoin="round" stroke-linecap="round"/>
<path d="M657.5 942.7C660.2 944.7 668.3 951.1 673.7 954.8C679.1 958.5 686.6 960.6 690 965C693.4 969.4 694.1 977.2 694.1 981.3C694.1 985.4 692.7 987.4 690 989.4C687.3 991.4 679.8 992.7 677.8 993.4" stroke="#000" stroke-width="2.0" fill="none" stroke-linejoin="round" stroke-linecap="round"/>
<path d="M676.8 997.5C680.3 995.8 693.4 990.7 698.1 987.3C702.8 983.9 704.5 981.6 705.2 977.2C705.9 972.8 703.4 964 702.2 960.9C701 957.8 698.8 959.2 698.1 958.9" stroke="#000" stroke-width="2.0" fill="none" stroke-linejoin="round" stroke-linecap="round"/>
<path d="M677.8 1003.6C680.5 1006 690 1013.4 694.1 1017.8C698.2 1022.2 700.2 1025.2 702.2 1030C704.2 1034.8 706.3 1038.8 706.3 1046.3C706.3 1053.8 704.2 1065.6 702.2 1074.7C700.2 1083.8 696.8 1093 694.1 1101.1C691.4 1109.2 689.4 1116.3 686 1123.4C682.6 1130.5 675.8 1140.4 673.7 1143.8" stroke="#000" stroke-width="2.0" fill="none" stroke-linejoin="round" stroke-linecap="round"/>
<path d="M673.7 1017.8C674.1 1021.9 675.8 1033 675.8 1042.2C675.8 1051.4 674.7 1062.6 673.7 1072.7C672.7 1082.8 670.4 1098 669.7 1103.1" stroke="#000" stroke-width="2.0" fill="none" stroke-linejoin="round" stroke-linecap="round"/>
<path d="M665.6 1042.2C665.3 1045.6 664.3 1054 663.6 1062.5C662.9 1071 661.9 1087.9 661.6 1093" stroke="#000" stroke-width="2.0" fill="none" stroke-linejoin="round" stroke-linecap="round"/>
<path d="M584.4 966L635.2 972.1" stroke="#000" stroke-width="2.0" fill="none" stroke-linejoin="round" stroke-linecap="round"/>
<path d="M575.2 1007.7L665.6 1025.9" stroke="#000" stroke-width="2.0" fill="none" stroke-linejoin="round" stroke-linecap="round"/>
<path d="M568.1 1031L652.4 1048.3" stroke="#000" stroke-width="2.0" fill="none" stroke-linejoin="round" stroke-linecap="round"/>
<path d="M560 1105.2L647.3 1123.4" stroke="#000" stroke-width="2.0" fill="none" stroke-linejoin="round" stroke-linecap="round"/>
<path d="M550 1102.5L620 1118.8" stroke="#000" stroke-width="2.0" fill="none" stroke-linejoin="round" stroke-linecap="round"/>
<path d="M555 1142.5L595 1152.5" stroke="#000" stroke-width="2.0" fill="none" stroke-linejoin="round" stroke-linecap="round"/>
<path d="M552.5 1175L650 1127.5" stroke="#000" stroke-width="2.0" fill="none" stroke-linejoin="round" stroke-linecap="round"/>
<path d="M562.5 1185L650 1142.5" stroke="#000" stroke-width="2.0" fill="none" stroke-linejoin="round" stroke-linecap="round"/>
<path d="M557.5 1217.5L632.5 1178.8" stroke="#000" stroke-width="2.0" fill="none" stroke-linejoin="round" stroke-linecap="round"/>
<path d="M702.2 1093L718.4 1084.8" stroke="#000" stroke-width="2.0" fill="none" stroke-linejoin="round" stroke-linecap="round"/>
<path d="M702 1106C704.1 1104.8 712.7 1096.8 714.4 1099.1C716.1 1101.4 714.4 1114 712 1120C709.6 1126 702 1132.5 700 1135" stroke="#000" stroke-width="2.0" fill="none" stroke-linejoin="round" stroke-linecap="round"/>
<path d="M710.3 954.8L755 970" stroke="#000" stroke-width="2.0" fill="none" stroke-linejoin="round" stroke-linecap="round"/>
<path d="M710.3 954.8C720.5 957.2 759.4 963.9 771.3 969C783.1 974.1 778.7 976.5 781.4 985.3C784.1 994.1 786.8 1007 787.5 1021.9C788.2 1036.8 786.9 1061.5 785.5 1074.7C784.1 1087.9 783.1 1096.5 779.4 1101.1C775.7 1105.7 765.8 1101.9 763.1 1102.1" stroke="#000" stroke-width="2.0" fill="none" stroke-linejoin="round" stroke-linecap="round"/>
<path d="M713.4 992.4L745.9 977.2" stroke="#000" stroke-width="2.0" fill="none" stroke-linejoin="round" stroke-linecap="round"/>
<path d="M738.8 1070.6C740.1 1067.9 743.2 1059 746.9 1054.4C750.6 1049.8 757.7 1044.6 761.1 1043.2C764.5 1041.8 765.2 1043.4 767.2 1046.3C769.2 1049.2 771.8 1055.8 773.3 1060.5C774.8 1065.2 775.8 1072.3 776.3 1074.7" stroke="#000" stroke-width="2.0" fill="none" stroke-linejoin="round" stroke-linecap="round"/>
<path d="M744.8 1060.5C746.2 1061.8 751 1064.9 753 1068.6C755 1072.3 756.2 1078.4 757 1082.8C757.8 1087.2 757.8 1093 758 1095" stroke="#000" stroke-width="2.0" fill="none" stroke-linejoin="round" stroke-linecap="round"/>
<path d="M543.8 975L591.2 984" stroke="#000" stroke-width="2.2" fill="none" stroke-linejoin="round" stroke-linecap="round"/>
<path d="M543.8 975L542.8 982.2" stroke="#000" stroke-width="1.8" fill="none" stroke-linejoin="round" stroke-linecap="round"/>
<path d="M541.2 993L538.9 979.5L547.2 980.7L541.2 993Z" fill="#000" stroke="none"/>
<path d="M591.2 984L590.2 990.8" stroke="#000" stroke-width="1.8" fill="none" stroke-linejoin="round" stroke-linecap="round"/>
<path d="M588.8 1001L586.5 987.5L594.8 988.7L588.8 1001Z" fill="#000" stroke="none"/>
<rect x="559.6" y="973.6" width="17.0" height="11.5" fill="none" stroke="#000" stroke-width="2.2" transform="rotate(10.7 568.1 979.4)"/>
<path d="M528.8 1037.5L572.5 1045" stroke="#000" stroke-width="2.2" fill="none" stroke-linejoin="round" stroke-linecap="round"/>
<path d="M528.8 1037.5L527.2 1045.3" stroke="#000" stroke-width="1.8" fill="none" stroke-linejoin="round" stroke-linecap="round"/>
<path d="M525 1057L523.3 1043.4L531.6 1045L525 1057Z" fill="#000" stroke="none"/>
<path d="M572.5 1045L572 1053" stroke="#000" stroke-width="1.8" fill="none" stroke-linejoin="round" stroke-linecap="round"/>
<path d="M571.2 1065L567.9 1051.8L576.3 1052.3L571.2 1065Z" fill="#000" stroke="none"/>
<rect x="542.1" y="1034.2" width="17.0" height="11.5" fill="none" stroke="#000" stroke-width="2.2" transform="rotate(9.7 550.6 1040.0)"/>
<path d="M640 972.5L680 957.5" stroke="#000" stroke-width="2.2" fill="none" stroke-linejoin="round" stroke-linecap="round"/>
<path d="M640 972.5L642.5 981.1" stroke="#000" stroke-width="1.8" fill="none" stroke-linejoin="round" stroke-linecap="round"/>
<path d="M646.2 994L638.6 982.7L646.7 980.3L646.2 994Z" fill="#000" stroke="none"/>
<path d="M680 957.5L683 965.7" stroke="#000" stroke-width="1.8" fill="none" stroke-linejoin="round" stroke-linecap="round"/>
<path d="M687.5 978L679.1 967.2L687 964.3L687.5 978Z" fill="#000" stroke="none"/>
<rect x="651.5" y="958.6" width="17.0" height="11.5" fill="none" stroke="#000" stroke-width="2.2" transform="rotate(-20.6 660.0 964.4)"/>
<path d="M665 1041.2L711.2 1047.5" stroke="#000" stroke-width="2.2" fill="none" stroke-linejoin="round" stroke-linecap="round"/>
<path d="M665 1041.2L664.5 1050.3" stroke="#000" stroke-width="1.8" fill="none" stroke-linejoin="round" stroke-linecap="round"/>
<path d="M663.8 1064L660.3 1050.8L668.7 1051.3L663.8 1064Z" fill="#000" stroke="none"/>
<path d="M711.2 1047.5L711.2 1057.3" stroke="#000" stroke-width="1.8" fill="none" stroke-linejoin="round" stroke-linecap="round"/>
<path d="M711.2 1072L707 1059L715.5 1059L711.2 1072Z" fill="#000" stroke="none"/>
<rect x="679.6" y="1038.6" width="17.0" height="11.5" fill="none" stroke="#000" stroke-width="2.2" transform="rotate(7.7 688.1 1044.4)"/>
<path d="M658.8 1100L703.8 1107.5" stroke="#000" stroke-width="2.2" fill="none" stroke-linejoin="round" stroke-linecap="round"/>
<path d="M658.8 1100L657.8 1108.8" stroke="#000" stroke-width="1.8" fill="none" stroke-linejoin="round" stroke-linecap="round"/>
<path d="M656.2 1122L653.5 1108.6L661.9 1109.6L656.2 1122Z" fill="#000" stroke="none"/>
<path d="M703.8 1107.5L703.2 1116.5" stroke="#000" stroke-width="1.8" fill="none" stroke-linejoin="round" stroke-linecap="round"/>
<path d="M702.5 1130L699 1116.8L707.4 1117.3L702.5 1130Z" fill="#000" stroke="none"/>
<rect x="673.4" y="1098.0" width="17.0" height="11.5" fill="none" stroke="#000" stroke-width="2.2" transform="rotate(9.5 681.9 1103.8)"/>
<path d="M692.5 238.8C693.8 238.2 695.6 236.7 700 235.6C704.4 234.5 708.8 233.2 718.8 231.9C728.8 230.6 749.3 228.4 760 227.5C770.7 226.6 766.1 227.4 782.8 226.6C799.5 225.8 847.1 223.2 860 222.5" stroke="#000" stroke-width="1.7" fill="none" stroke-linejoin="round" stroke-linecap="round"/>
<path d="M770 288.8C771.2 288.1 774.2 286.2 777.5 285C780.8 283.8 787.9 281.9 790 281.2" stroke="#000" stroke-width="1.7" fill="none" stroke-linejoin="round" stroke-linecap="round"/>
<path d="M820 277.5C821.2 275.8 824.2 269.6 827.5 267.5C830.8 265.4 827.9 266 840 265C852.1 264 890 261.9 900 261.2" stroke="#000" stroke-width="1.7" fill="none" stroke-linejoin="round" stroke-linecap="round"/>
<path d="M822.5 285C823.8 283.3 826.7 277.1 830 275C833.3 272.9 830.8 273.8 842.5 272.5C854.2 271.2 890.4 268.3 900 267.5" stroke="#000" stroke-width="1.7" fill="none" stroke-linejoin="round" stroke-linecap="round"/>
<path d="M773.1 226.2C773.3 224.2 773.5 216.8 774.2 214.2C774.9 211.7 774.8 211.6 777.5 210.9C780.2 210.3 788.1 210.8 790.6 210.4C793.2 209.9 791.5 208.6 792.8 208.2C794.1 207.8 796.8 208 798.3 208.2C799.7 208.4 798.5 209.6 801.6 209.3C804.7 209 813.6 206.7 816.9 206.6C820.2 206.5 819.8 206 821.2 208.7C822.7 211.5 824.9 220.6 825.6 223" stroke="#000" stroke-width="1.7" fill="none" stroke-linejoin="round" stroke-linecap="round"/>
<path d="M793.9 225.2C794.5 224.2 795.2 221.1 797.2 219.7C799.2 218.2 801.9 217.3 805.9 216.4C809.9 215.5 818.7 214.6 821.2 214.2" stroke="#000" stroke-width="1.7" fill="none" stroke-linejoin="round" stroke-linecap="round"/>
<path d="M830 238.8C831.5 239.5 836.7 240.7 838.7 242.7C840.8 244.6 842.2 247.8 842.2 250.3C842.2 252.9 840.6 256.2 838.7 258C836.9 259.7 833.3 260.4 831.1 260.7C828.9 261 826.5 259.8 825.6 259.6" stroke="#000" stroke-width="1.7" fill="none" stroke-linejoin="round" stroke-linecap="round"/>
<path d="M856.2 259.1C857.3 256.9 860.6 249.8 862.8 245.9C865 242.1 865.2 238.7 869.4 236.1C873.6 233.4 884.4 230.6 888 230.1C891.5 229.5 890.2 232.4 890.7 232.8" stroke="#000" stroke-width="1.7" fill="none" stroke-linejoin="round" stroke-linecap="round"/>
<path d="M878.1 238.3C879.6 238 884 236.7 886.9 236.6C889.8 236.5 894.3 237.1 895.6 237.7C896.9 238.4 895.3 239.8 894.5 240.5C893.8 241.1 891.8 241.4 891.2 241.6" stroke="#000" stroke-width="1.7" fill="none" stroke-linejoin="round" stroke-linecap="round"/>
<path d="M878.1 244.8C879.8 244.7 885.3 243.6 888 243.7C890.6 243.9 893.2 245 894 245.9C894.8 246.8 893.1 248.7 892.9 249.2" stroke="#000" stroke-width="1.7" fill="none" stroke-linejoin="round" stroke-linecap="round"/>
<path d="M878.1 252C879.4 252.2 883.7 253 885.8 253.6C887.9 254.1 889.9 255 890.7 255.2" stroke="#000" stroke-width="1.7" fill="none" stroke-linejoin="round" stroke-linecap="round"/>
<path d="M853 271.1C853.9 272 856.4 275.3 858.4 276.6C860.4 277.8 863.2 278.7 865 278.7C866.8 278.7 868.1 277.8 869.4 276.6C870.6 275.3 872.1 272 872.7 271.1" stroke="#000" stroke-width="1.7" fill="none" stroke-linejoin="round" stroke-linecap="round"/>
<path d="M873.7 271.1C874.5 272 875.9 275.4 878.1 276.6C880.3 277.7 884.7 278.9 886.9 278.2C889.1 277.5 890.5 273.2 891.2 272.2" stroke="#000" stroke-width="1.7" fill="none" stroke-linejoin="round" stroke-linecap="round"/>
<path d="M798.8 320C805.6 320.8 831.9 325 840 325C848.1 325 844.6 322.9 847.5 320C850.4 317.1 854.6 313.3 857.5 307.5C860.4 301.7 863.5 290.2 865 285C866.5 279.8 866 277.7 866.2 276.2" stroke="#000" stroke-width="1.7" fill="none" stroke-linejoin="round" stroke-linecap="round"/>
<path d="M820 300C820.8 299.8 822.1 302.1 825 298.8C827.9 295.4 833.8 284.4 837.5 280C841.2 275.6 845.8 273.8 847.5 272.5" stroke="#000" stroke-width="1.7" fill="none" stroke-linejoin="round" stroke-linecap="round"/>
<path d="M787.5 358.8C793.3 358.8 814.2 359.4 822.5 358.8C830.8 358.1 835 355.6 837.5 355" stroke="#000" stroke-width="1.7" fill="none" stroke-linejoin="round" stroke-linecap="round"/>
<path d="M787.5 361.2C793.3 361.5 814 362.9 822.5 362.5C831 362.1 836 359.4 838.8 358.8" stroke="#000" stroke-width="1.7" fill="none" stroke-linejoin="round" stroke-linecap="round"/>
<path d="M780 345L787.5 357.5" stroke="#000" stroke-width="1.7" fill="none" stroke-linejoin="round" stroke-linecap="round"/>
<path d="M846.2 323.8C845.8 327.7 845 342.3 843.8 347.5C842.5 352.7 839.6 353.8 838.8 355" stroke="#000" stroke-width="1.7" fill="none" stroke-linejoin="round" stroke-linecap="round"/>
<path d="M840 380C842.1 376.7 847.1 367.5 852.5 360C857.9 352.5 866.2 341.7 872.5 335C878.8 328.3 885.4 326.5 890 320C894.6 313.5 898.3 300.2 900 296.2" stroke="#000" stroke-width="1.7" fill="none" stroke-linejoin="round" stroke-linecap="round"/>
<path d="M850 380C851.7 376.7 856.2 367.1 860 360C863.8 352.9 870.4 341.2 872.5 337.5" stroke="#000" stroke-width="1.7" fill="none" stroke-linejoin="round" stroke-linecap="round"/>
<path d="M840 222.8C854.6 223 898.3 222.1 927.5 223.9C956.7 225.7 993.1 229.6 1015 233.8C1036.9 237.9 1045.1 241.4 1058.8 249.1C1072.4 256.7 1090.7 274.6 1097.1 279.7" stroke="#000" stroke-width="1.7" fill="none" stroke-linejoin="round" stroke-linecap="round"/>
<path d="M615 300.6L641 277.6Q642.5 276.2 644.1 275.1L692.5 238.8" stroke="#000" stroke-width="1.7" fill="none" stroke-linejoin="round" stroke-linecap="round"/>
<path d="M692.5 238.8L693.8 239.1Q695 239.4 697 239.8L758 252.1Q760 252.5 762 252.9L811.3 263.5" stroke="#000" stroke-width="1.7" fill="none" stroke-linejoin="round" stroke-linecap="round"/>
<path d="M615 307.5L690.9 246.8Q692.5 245.6 693.8 245.3L693.8 245.3Q695 245 697 245.4L758 257.7Q760 258.1 762 258.5L811.3 268" stroke="#000" stroke-width="1.7" fill="none" stroke-linejoin="round" stroke-linecap="round"/>
<path d="M616.2 321.2L702.5 248.1" stroke="#000" stroke-width="1.7" fill="none" stroke-linejoin="round" stroke-linecap="round"/>
<path d="M804 268.5L725.1 372.2Q723.9 373.8 722 373.3L618.3 346.8" stroke="#000" stroke-width="1.7" fill="none" stroke-linejoin="round" stroke-linecap="round"/>
<path d="M618.3 353.5L724 380.4Q725.9 380.9 727.1 379.3L811.7 265.6" stroke="#000" stroke-width="1.7" fill="none" stroke-linejoin="round" stroke-linecap="round"/>
<path d="M824 283L752.5 381.9" stroke="#000" stroke-width="1.7" fill="none" stroke-linejoin="round" stroke-linecap="round"/>
<path d="M814 280L752 370.3" stroke="#000" stroke-width="1.7" fill="none" stroke-linejoin="round" stroke-linecap="round"/>
<path d="M620.3 375.9L646.7 386" stroke="#000" stroke-width="1.7" fill="none" stroke-linejoin="round" stroke-linecap="round"/>
<path d="M762.5 260L745 346.2" stroke="#000" stroke-width="1.7" fill="none" stroke-linejoin="round" stroke-linecap="round"/>
<path d="M773.8 262.5L767.5 316.2" stroke="#000" stroke-width="1.7" fill="none" stroke-linejoin="round" stroke-linecap="round"/>
<path d="M791.7 238.3L807.4 231.4Q809.2 230.6 811.2 230.2L825.9 227.2Q827.8 226.8 829.7 227.6L838 231Q839.8 231.7 838.4 233.1L838 233.6Q836.6 235 834.6 235.3L823.2 236.9Q821.2 237.2 819.3 237.7L807.9 241Q805.9 241.6 803.9 241.6L791.7 242.1" stroke="#000" stroke-width="1.7" fill="none" stroke-linejoin="round" stroke-linecap="round"/>
<path d="M791.7 230.6L791.7 240.5" stroke="#000" stroke-width="1.7" fill="none" stroke-linejoin="round" stroke-linecap="round"/>
<path d="M773.1 231.7L773.1 250.3" stroke="#000" stroke-width="1.7" fill="none" stroke-linejoin="round" stroke-linecap="round"/>
<path d="M817.5 285L823.8 297.5" stroke="#000" stroke-width="1.7" fill="none" stroke-linejoin="round" stroke-linecap="round"/>
<path d="M796.2 321.2L798.5 343Q798.8 345 800.7 345.2L810.5 346.1Q812.5 346.2 812.7 344.3L815 326.2" stroke="#000" stroke-width="1.7" fill="none" stroke-linejoin="round" stroke-linecap="round"/>
<path d="M833.8 327.5L834.8 340.5Q835 342.5 837 342.2L841.8 341.5Q843.8 341.2 843.9 339.3L845 326.2" stroke="#000" stroke-width="1.7" fill="none" stroke-linejoin="round" stroke-linecap="round"/>
<path d="M817.5 325L823.8 358.8" stroke="#000" stroke-width="1.7" fill="none" stroke-linejoin="round" stroke-linecap="round"/>
<path d="M827.5 326.2L830 358.8" stroke="#000" stroke-width="1.7" fill="none" stroke-linejoin="round" stroke-linecap="round"/>
<path d="M787.5 362.5L781.2 380" stroke="#000" stroke-width="1.7" fill="none" stroke-linejoin="round" stroke-linecap="round"/>
<path d="M792.5 363.8L783.8 371.2" stroke="#000" stroke-width="1.7" fill="none" stroke-linejoin="round" stroke-linecap="round"/>
<path d="M808.8 363.8L810 380" stroke="#000" stroke-width="1.7" fill="none" stroke-linejoin="round" stroke-linecap="round"/>
<path d="M832.5 358.8L835 380" stroke="#000" stroke-width="1.7" fill="none" stroke-linejoin="round" stroke-linecap="round"/>
<path d="M841.2 353.8L846.2 362.5" stroke="#000" stroke-width="1.7" fill="none" stroke-linejoin="round" stroke-linecap="round"/>
<path d="M855 310L862.5 340" stroke="#000" stroke-width="1.7" fill="none" stroke-linejoin="round" stroke-linecap="round"/>
<path d="M765 363.8L766.2 381.2" stroke="#000" stroke-width="1.7" fill="none" stroke-linejoin="round" stroke-linecap="round"/>
<path d="M866.3 265.5L925.5 258.1Q927.5 257.8 929.5 257.6L1024 249.2Q1026 249.1 1027.9 249.6L1035 251.8Q1036.9 252.3 1038.3 253.7L1057.3 271.8Q1058.8 273.1 1060.2 274.5L1098.1 312.5" stroke="#000" stroke-width="1.7" fill="none" stroke-linejoin="round" stroke-linecap="round"/>
<path d="M927.5 262.2L1017.4 256.8Q1019.4 256.7 1021.3 257.3L1028.4 259.4Q1030.3 260 1031.7 261.4L1063.9 293.6Q1065.3 295 1066.7 296.5L1076.7 307.7Q1078 309.2 1078.7 311.1L1080 315Q1080.6 316.9 1080.1 318.8L1076.8 330.3Q1076.3 332.2 1075.4 334L1061.9 361Q1061 362.8 1059.3 363.9L1043.5 373.8" stroke="#000" stroke-width="1.7" fill="none" stroke-linejoin="round" stroke-linecap="round"/>
<path d="M927.5 233.8L974.5 237" stroke="#000" stroke-width="1.7" fill="none" stroke-linejoin="round" stroke-linecap="round"/>
<path d="M927.5 233.8L936.3 249.1" stroke="#000" stroke-width="1.7" fill="none" stroke-linejoin="round" stroke-linecap="round"/>
<path d="M940.6 263.3L952.6 280.2Q953.8 281.9 955.7 282.1L1065.3 295" stroke="#000" stroke-width="1.7" fill="none" stroke-linejoin="round" stroke-linecap="round"/>
<path d="M945 263.3L955.1 284.5Q955.9 286.3 957.9 286.5L1070.8 302.7" stroke="#000" stroke-width="1.7" fill="none" stroke-linejoin="round" stroke-linecap="round"/>
<path d="M985.5 303.8L1077.4 320.2" stroke="#000" stroke-width="1.7" fill="none" stroke-linejoin="round" stroke-linecap="round"/>
<path d="M939.5 312.5L1026.2 326.4Q1028.1 326.7 1029.8 327.8L1051.1 342" stroke="#000" stroke-width="1.7" fill="none" stroke-linejoin="round" stroke-linecap="round"/>
<path d="M942.8 326.7L1019.6 340.6Q1021.6 341 1023.1 342.2L1041.9 357.2Q1043.5 358.5 1043.8 360.4L1045.6 371.6" stroke="#000" stroke-width="1.7" fill="none" stroke-linejoin="round" stroke-linecap="round"/>
<path d="M905.6 266.6L913.9 297.5Q914.4 299.4 914.7 301.4L920.6 341.2Q920.9 343.1 920.8 345.1L918.8 378.1" stroke="#000" stroke-width="1.7" fill="none" stroke-linejoin="round" stroke-linecap="round"/>
<path d="M914.4 264.4L922.6 293.1Q923.1 295 923.4 297L929.4 341.2Q929.7 343.1 929.7 345.1L929.7 378.1" stroke="#000" stroke-width="1.7" fill="none" stroke-linejoin="round" stroke-linecap="round"/>
<path d="M927.5 262.2L935.8 297.4Q936.3 299.4 936.6 301.4L942.5 341.2Q942.8 343.1 942.9 345.1L945 378.1" stroke="#000" stroke-width="1.7" fill="none" stroke-linejoin="round" stroke-linecap="round"/>
<path d="M901.3 331.1L916.6 331.1" stroke="#000" stroke-width="1.7" fill="none" stroke-linejoin="round" stroke-linecap="round"/>
<path d="M896.9 338.8L896.9 378.1" stroke="#000" stroke-width="1.7" fill="none" stroke-linejoin="round" stroke-linecap="round"/>
<path d="M1069.7 362.8L1066.4 373.8" stroke="#000" stroke-width="1.7" fill="none" stroke-linejoin="round" stroke-linecap="round"/>
<path d="M1078.5 350.8L1076.3 371.6" stroke="#000" stroke-width="1.7" fill="none" stroke-linejoin="round" stroke-linecap="round"/>
<path d="M1089.4 338.8L1093.8 371.6" stroke="#000" stroke-width="1.7" fill="none" stroke-linejoin="round" stroke-linecap="round"/>
<path d="M1094.9 356.3L1100.3 356.3" stroke="#000" stroke-width="1.7" fill="none" stroke-linejoin="round" stroke-linecap="round"/>
<path d="M962.5 373.8L974.5 377" stroke="#000" stroke-width="1.7" fill="none" stroke-linejoin="round" stroke-linecap="round"/>
<path d="M772.6 236.1L791.7 241.3L792.8 255.8L781.9 253.6L774 251.4L772.6 236.1Z" fill="#000" stroke="none"/>
<path d="M778.6 262.3L787.3 264.5L792.3 272.7L787.9 271.1L782.4 267.3L778.6 262.3Z" fill="#000" stroke="none"/>
<path d="M776.2 262.5L790 267.5L791.2 271.9L785 268.8L776.2 262.5Z" fill="#000" stroke="none"/>
<ellipse cx="812.0" cy="251.4" rx="4.6" ry="7.4" fill="#fff" stroke="#000" stroke-width="1.8"/>
<path d="M813.0 244.9 Q817.5 251.4 813.0 257.9 Q814.5 251.4 813.0 244.9Z" fill="#000"/>
<path d="M310.6 793.1C326.1 809.2 371.4 852.2 403.4 890C435.4 927.8 486 998.3 502.5 1020" stroke="#000" stroke-width="2.5" fill="none" stroke-linejoin="round" stroke-linecap="round"/>
<path d="M342.5 793.1C357.3 810.8 403.3 862.5 431.2 899.4C459.2 936.3 496.9 995.2 510 1014.4" stroke="#000" stroke-width="2.5" fill="none" stroke-linejoin="round" stroke-linecap="round"/>
<path d="M502.5 1020L499.5 1023.5L521.2 1037.8L513.8 1010.6L510 1014.4" stroke="#000" stroke-width="2.5" fill="none" stroke-linejoin="round" stroke-linecap="round"/>
<path d="M618 765C617.4 773.5 616.3 801.8 614.6 816C612.9 830.2 611.8 836 608 850C604.2 864 597.5 884.5 592 900C586.5 915.5 578.1 935.6 575.3 942.7" stroke="#000" stroke-width="2.5" fill="none" stroke-linejoin="round" stroke-linecap="round"/>
<path d="M637 765C636.2 773.5 634.5 801.8 632 816C629.5 830.2 626.8 836 622 850C617.2 864 610 884 603 900C596 916 584.1 938.4 580.3 946.1" stroke="#000" stroke-width="2.5" fill="none" stroke-linejoin="round" stroke-linecap="round"/>
<path d="M575.3 942.7L570.2 941L567.6 966.4L582.9 948.6L580.3 946.1" stroke="#000" stroke-width="2.5" fill="none" stroke-linejoin="round" stroke-linecap="round"/>
<path d="M882.5 762.8C880 769.2 873.8 789.2 867.5 801.2C861.2 813.3 853.8 824.4 845 835C836.2 845.6 827.5 853.8 815 865C802.5 876.2 788.1 890 770 902.5C751.9 915 716.9 933.8 706.2 940" stroke="#000" stroke-width="2.5" fill="none" stroke-linejoin="round" stroke-linecap="round"/>
<path d="M904 763.8C901.7 770 896.1 789.4 890 801.2C883.9 813.1 875.9 824.4 867.5 835C859.1 845.6 851.3 853.8 839.4 865C827.5 876.2 817.8 888.9 796.2 902.5C774.7 916.1 724.4 939.2 710 946.6" stroke="#000" stroke-width="2.5" fill="none" stroke-linejoin="round" stroke-linecap="round"/>
<path d="M706.2 940L704.4 933.4L687.5 955L711 952.2L710 946.6" stroke="#000" stroke-width="2.5" fill="none" stroke-linejoin="round" stroke-linecap="round"/>
<path d="M528.2 1323.7C534.1 1317.3 548.7 1305 563.8 1285.2C578.9 1265.4 603.6 1229 618.8 1205C633.9 1181 648.5 1151.8 654.4 1141.2" stroke="#000" stroke-width="2.5" fill="none" stroke-linejoin="round" stroke-linecap="round"/>
<path d="M557.9 1323.7C563.1 1315.8 576.4 1298.7 589 1276.2C601.6 1253.7 621.5 1210.2 633.6 1188.7C645.7 1167.2 657.1 1154 661.8 1147.1" stroke="#000" stroke-width="2.5" fill="none" stroke-linejoin="round" stroke-linecap="round"/>
<path d="M654.4 1141.2L651.5 1142L667.7 1122.6L665 1148.5L661.8 1147.1" stroke="#000" stroke-width="2.5" fill="none" stroke-linejoin="round" stroke-linecap="round"/>
<path d="M860.4 1281.4C855.8 1271.6 842.6 1240.4 833 1222.5C823.4 1204.6 812.7 1189 802.5 1173.8C792.3 1158.5 783.9 1145.3 772 1131.1C760.1 1116.9 738.2 1095.5 731.4 1088.4" stroke="#000" stroke-width="2.5" fill="none" stroke-linejoin="round" stroke-linecap="round"/>
<path d="M883.8 1281.4C878.7 1271.6 863.5 1239.8 853.3 1222.5C843.1 1205.2 833 1191.3 822.8 1177.8C812.6 1164.3 806.5 1157.2 792.3 1141.2C778.1 1125.3 746.6 1092.1 737.5 1082.3" stroke="#000" stroke-width="2.5" fill="none" stroke-linejoin="round" stroke-linecap="round"/>
<path d="M731.4 1088.4L729.4 1091.5L717.2 1068.1L741.6 1076.2L737.5 1082.3" stroke="#000" stroke-width="2.5" fill="none" stroke-linejoin="round" stroke-linecap="round"/></svg>
</body></html>
